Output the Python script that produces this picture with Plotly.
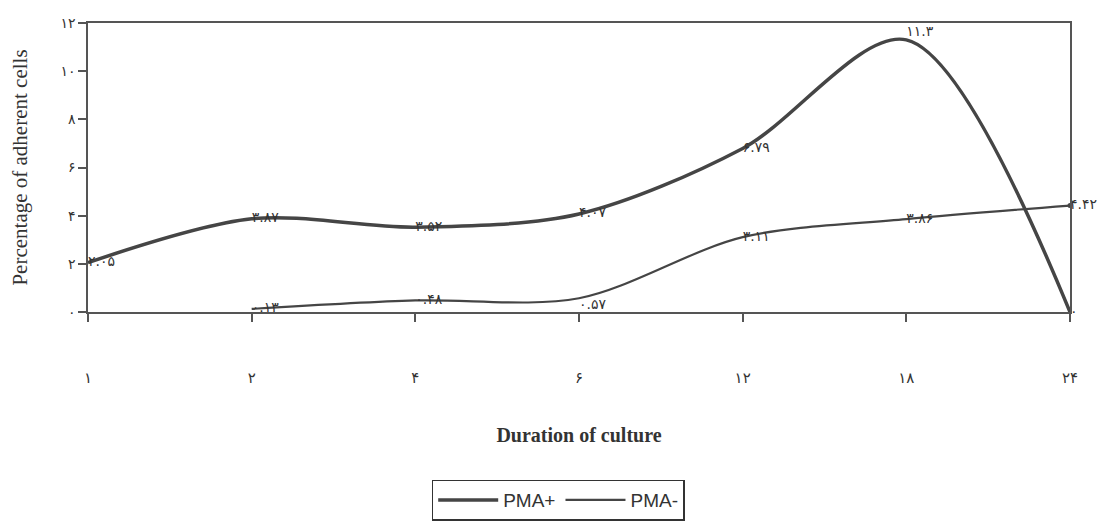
import plotly.graph_objects as go

categories = ["۱", "۲", "۴", "۶", "۱۲", "۱۸", "۲۴"]
pma_plus = [2.05, 3.87, 3.52, 4.07, 6.79, 11.3, 0]
pma_plus_labels = ["۲.۰۵", "۳.۸۷", "۳.۵۲", "۴.۰۷", "۶.۷۹", "۱۱.۳", "۰"]
pma_minus = [None, 0.13, 0.48, 0.57, 3.11, 3.86, 4.42]
pma_minus_labels = ["", "۰.۱۳", "۰.۴۸", "۰.۵۷", "۳.۱۱", "۳.۸۶", "۴.۴۲"]
y_ticks = [0, 2, 4, 6, 8, 10, 12]
y_tick_labels = ["۰", "۲", "۴", "۶", "۸", "۱۰", "۱۲"]

xpos = list(range(len(categories)))
lab_font = dict(family="DejaVu Sans", size=14, color="#333")

fig = go.Figure()
fig.add_trace(go.Scatter(
    x=xpos, y=pma_plus, name="PMA+", mode="lines+text",
    line=dict(color="#454545", width=3.5, shape="spline", smoothing=0.9),
    text=pma_plus_labels,
    textposition=["middle right", "middle right", "middle right", "middle right",
                  "middle right", "top right", "middle right"],
    textfont=lab_font, cliponaxis=False,
))
fig.add_trace(go.Scatter(
    x=xpos, y=pma_minus, name="PMA-", mode="lines+text",
    line=dict(color="#454545", width=2.2, shape="spline", smoothing=0.9),
    text=pma_minus_labels,
    textposition=["middle right", "middle right", "middle right", "bottom right",
                  "middle right", "middle right", "middle right"],
    textfont=lab_font, cliponaxis=False, connectgaps=False,
))
fig.add_trace(go.Scatter(
    x=[xpos[-1]], y=[pma_minus[-1]], mode="markers", showlegend=False,
    marker=dict(size=5, color="#454545"), cliponaxis=False,
))

fig.update_layout(
    width=1098, height=524,
    margin=dict(l=80, r=36, t=15, b=212),
    paper_bgcolor="white", plot_bgcolor="white",
    showlegend=True,
    legend=dict(orientation="h", x=0.35, xanchor="left", y=-0.58, yanchor="top",
                bordercolor="#333", borderwidth=1.5,
                font=dict(family="Liberation Sans", size=19, color="#333"),
                itemwidth=60, tracegroupgap=0),
    font=dict(family="Liberation Serif", color="#333"),
)
fig.update_xaxes(
    range=[0, 6], tickmode="array", tickvals=xpos, ticktext=categories,
    showline=True, linecolor="#555", linewidth=1.5, mirror=True,
    ticks="outside", ticklen=8, tickwidth=1.5, tickcolor="#555",
    showgrid=False, zeroline=False, automargin=False,
    ticklabelstandoff=43,
    tickfont=dict(family="DejaVu Sans", size=15, color="#333"),
    title=dict(text="<b>Duration of culture</b>", standoff=42,
               font=dict(family="Liberation Serif", size=20, color="#333")),
)
fig.update_yaxes(
    range=[0, 12], tickmode="array", tickvals=y_ticks, ticktext=y_tick_labels,
    showline=True, linecolor="#555", linewidth=1.5, mirror=True,
    ticks="outside", ticklen=8, tickwidth=1.5, tickcolor="#555",
    showgrid=False, zeroline=False, automargin=False,
    tickfont=dict(family="DejaVu Sans", size=14, color="#333"),
    title=dict(text="Percentage of adherent cells", standoff=28,
               font=dict(family="Liberation Serif", size=21, color="#333")),
)

fig.write_html("out.html")
